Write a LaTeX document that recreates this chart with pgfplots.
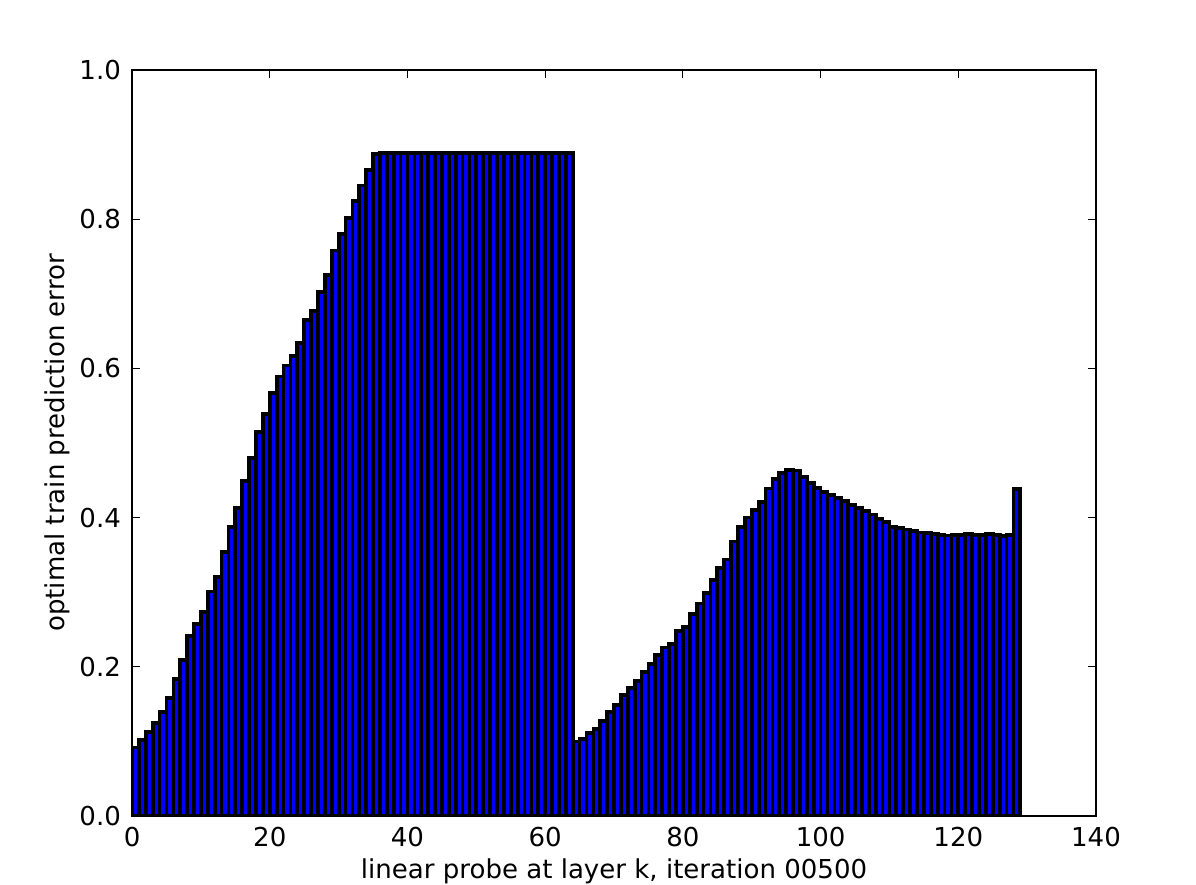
\documentclass[border=0pt]{standalone}
\usepackage{fontspec}
\setmainfont{DejaVu Sans}
\usepackage{pgfplots}
\usepackage{pgfplotstable}
\pgfplotsset{compat=1.18}
\usetikzlibrary{calc}
\definecolor{barblue}{RGB}{0,0,255}

% optimal train prediction error per layer
\pgfplotstableread{
k err
0 0.092
1 0.102
2 0.113
3 0.125
4 0.139
5 0.158
6 0.184
7 0.209
8 0.241
9 0.257
10 0.273
11 0.301
12 0.320
13 0.354
14 0.387
15 0.413
16 0.449
17 0.480
18 0.515
19 0.539
20 0.567
21 0.589
22 0.604
23 0.617
24 0.634
25 0.665
26 0.677
27 0.702
28 0.725
29 0.758
30 0.780
31 0.802
32 0.824
33 0.845
34 0.866
35 0.887
36 0.889
37 0.889
38 0.889
39 0.889
40 0.889
41 0.889
42 0.889
43 0.889
44 0.889
45 0.889
46 0.889
47 0.889
48 0.889
49 0.889
50 0.889
51 0.889
52 0.889
53 0.889
54 0.889
55 0.889
56 0.889
57 0.889
58 0.889
59 0.889
60 0.889
61 0.889
62 0.889
63 0.889
64 0.100
65 0.103
66 0.111
67 0.117
68 0.127
69 0.139
70 0.149
71 0.162
72 0.172
73 0.181
74 0.193
75 0.204
76 0.216
77 0.226
78 0.231
79 0.248
80 0.253
81 0.271
82 0.285
83 0.299
84 0.316
85 0.332
86 0.344
87 0.368
88 0.387
89 0.400
90 0.410
91 0.421
92 0.439
93 0.452
94 0.460
95 0.464
96 0.463
97 0.454
98 0.446
99 0.440
100 0.434
101 0.430
102 0.426
103 0.422
104 0.417
105 0.413
106 0.409
107 0.404
108 0.398
109 0.394
110 0.387
111 0.386
112 0.384
113 0.382
114 0.380
115 0.379
116 0.378
117 0.377
118 0.376
119 0.377
120 0.377
121 0.378
122 0.377
123 0.377
124 0.378
125 0.377
126 0.375
127 0.377
128 0.438
}\errtable

\begin{document}
\fontsize{12.5}{15}\selectfont
\begin{tikzpicture}
  \begin{axis}[
    scale only axis,
    width=462.7pt, height=358.1pt,
    xmin=0, xmax=140, ymin=0, ymax=1,
    xtick={0,20,...,140},
    ytick={0,0.2,...,1.0},
    yticklabel style={/pgf/number format/fixed, /pgf/number format/fixed zerofill, /pgf/number format/precision=1},
    /pgf/number format/assume math mode=true,
    tick align=inside,
    major tick length=3.9pt,
    tick style={black, line width=0.5pt},
    axis line style={black, line width=1pt},
    tick label style={font=\fontsize{12.5}{15}\selectfont},
    xticklabel style={yshift=-1pt},
    yticklabel style={xshift=-1pt},
    xlabel={linear probe at layer k, iteration 00500},
    ylabel={optimal train prediction error},
    label style={font=\fontsize{12.5}{15}\selectfont},
    xlabel style={at={(rel axis cs:0.5,0)}, anchor=base, yshift=-29.8pt},
    ylabel style={at={(rel axis cs:0,0.5)}, anchor=center, yshift=36pt},
  ]
    \addplot[ybar, bar width=1, bar shift=0.5, fill=barblue, draw=black, line width=1.8pt]
      table[x=k, y=err] {\errtable};
  \end{axis}
  \pgfresetboundingbox
  \path ($(current axis.south west)+(-63.4pt,-33.1pt)$) rectangle ($(current axis.north east)+(48pt,33.6pt)$);
\end{tikzpicture}
\end{document}
